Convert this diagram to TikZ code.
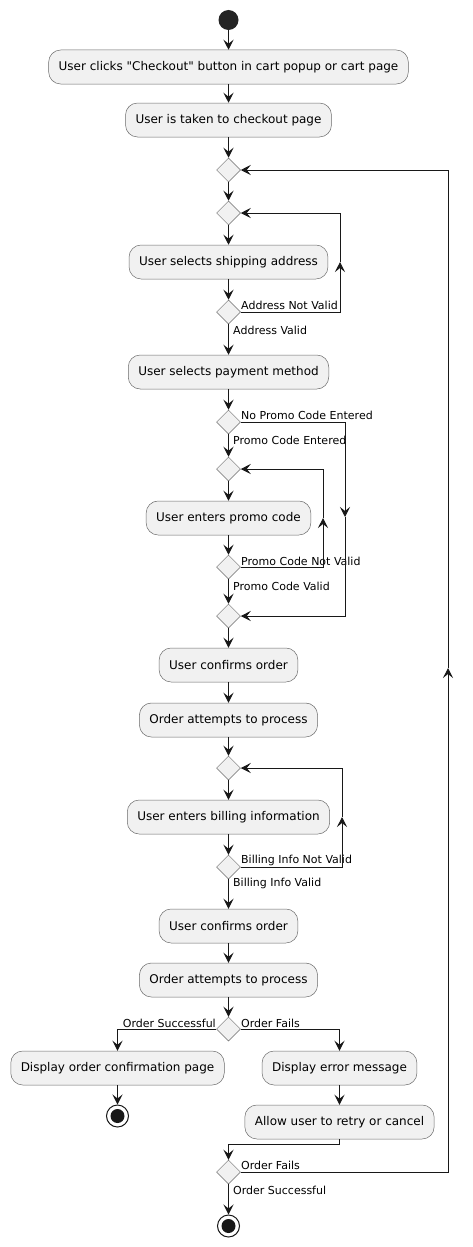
\documentclass[tikz,border=0pt]{standalone}
\usepackage{fontspec}
\setmainfont{DejaVu Sans}[Ligatures=TeXOff]
\usetikzlibrary{arrows.meta,shapes.geometric}
\definecolor{umlfill}{HTML}{F1F1F1}
\definecolor{umlline}{HTML}{181818}

\begin{document}
\begin{tikzpicture}[
  x=1pt,
  y=-1pt,
  action/.style={draw=umlline!65, fill=umlfill, rounded corners=12pt, line width=0.5pt, minimum height=34pt, inner xsep=10pt, inner ysep=0pt, font=\fontsize{12}{14}\selectfont},
  branch/.style={diamond, draw=umlline!65, fill=umlfill, line width=0.5pt, minimum width=24pt, minimum height=24pt, inner sep=0pt},
  guard/.style={inner sep=0pt, font=\fontsize{11}{13}\selectfont},
  flow/.style={umlline, line width=1pt, -{Stealth[length=10pt, width=10pt, inset=4pt]}},
  initial/.style={circle, fill=umlline!95, minimum size=20pt, inner sep=0pt},
  final/.style={circle, draw=umlline, fill=white, line width=1pt, minimum size=22pt, inner sep=0pt, path picture={\fill[umlline] (path picture bounding box.center) circle (7pt);}}
]
\useasboundingbox (0,0) rectangle (473,1247);

\node[initial] (init) at (228.5,20) {};
\node[action] (b1) at (228.5,67) {User clicks "Checkout" button in cart popup or cart page};
\node[action] (b2) at (228.5,120) {User is taken to checkout page};
\node[branch] (d1) at (228.5,170) {};
\node[branch] (d2) at (228.5,213) {};
\node[action] (b3) at (228.5,262) {User selects shipping address};
\node[branch] (d3) at (228.5,312) {};
\node[action] (b4) at (228.5,372) {User selects payment method};
\node[branch] (d4) at (228.5,422) {};
\node[branch] (d5) at (228.5,469) {};
\node[action] (b5) at (228.5,518) {User enters promo code};
\node[branch] (d6) at (228.5,567) {};
\node[branch] (d7) at (228.5,616) {};
\node[action] (b6) at (228.5,665) {User confirms order};
\node[action] (b7) at (228.5,720) {Order attempts to process};
\node[branch] (d8) at (228.5,768) {};
\node[action] (b8) at (228.5,817) {User enters billing information};
\node[branch] (d9) at (228.5,867) {};
\node[action] (b9) at (228.5,926) {User confirms order};
\node[action] (b10) at (228.5,980) {Order attempts to process};
\node[branch] (d10) at (228.5,1029) {};
\node[action] (b11) at (117.5,1068) {Display order confirmation page};
\node[action] (b12) at (339.5,1068) {Display error message};
\node[final] (stop1) at (117.5,1116) {};
\node[action] (b13) at (339.5,1122) {Allow user to retry or cancel};
\node[branch] (d11) at (228.5,1172) {};
\node[final] (stop2) at (228.5,1226) {};

\node[guard, anchor=west] (g1) at (241,305) {Address Not Valid};
\node[guard, anchor=west] (g2) at (233,330) {Address Valid};
\node[guard, anchor=west] (g3) at (241,415) {No Promo Code Entered};
\node[guard, anchor=west] (g4) at (233,440) {Promo Code Entered};
\node[guard, anchor=west] (g5) at (241,561) {Promo Code Not Valid};
\node[guard, anchor=west] (g6) at (233,586) {Promo Code Valid};
\node[guard, anchor=west] (g7) at (241,860) {Billing Info Not Valid};
\node[guard, anchor=west] (g8) at (233,883) {Billing Info Valid};
\node[guard, anchor=east] (g9) at (216,1023) {Order Successful};
\node[guard, anchor=west] (g10) at (241,1023) {Order Fails};
\node[guard, anchor=west] (g11) at (241,1165) {Order Fails};
\node[guard, anchor=west] (g12) at (233,1190) {Order Successful};

\coordinate (r1) at (340,262);
\coordinate (r2) at (345,517);
\coordinate (r3) at (323,518);
\coordinate (r4) at (342,817);
\coordinate (r5) at (448,668);
\coordinate (j1) at (228.5,1144);

\draw[flow] (init) -- (b1);
\draw[flow] (b1) -- (b2);
\draw[flow] (b2) -- (d1);
\draw[flow] (d1) -- (d2);
\draw[flow] (d2) -- (b3);
\draw[flow] (b3) -- (d3);
\draw[flow] (d3.east) -| (r1);
\draw[flow] (r1) |- (d2.east);
\draw[flow] (d3) -- (b4);
\draw[flow] (b4) -- (d4);
\draw[flow] (d4) -- (d5);
\draw[flow] (d4.east) -| (r2);
\draw[flow] (r2) |- (d7.east);
\draw[flow] (d5) -- (b5);
\draw[flow] (b5) -- (d6);
\draw[flow] (d6.east) -| (r3);
\draw[flow] (r3) |- (d5.east);
\draw[flow] (d6) -- (d7);
\draw[flow] (d7) -- (b6);
\draw[flow] (b6) -- (b7);
\draw[flow] (b7) -- (d8);
\draw[flow] (d8) -- (b8);
\draw[flow] (b8) -- (d9);
\draw[flow] (d9.east) -| (r4);
\draw[flow] (r4) |- (d8.east);
\draw[flow] (d9) -- (b9);
\draw[flow] (b9) -- (b10);
\draw[flow] (b10) -- (d10);
\draw[flow] (d10.west) -| (b11.north);
\draw[flow] (d10.east) -| (b12.north);
\draw[flow] (b11) -- (stop1);
\draw[flow] (b12) -- (b13);
\draw[flow] (b13.south) |- (j1) -- (d11.north);
\draw[flow] (d11.east) -| (r5);
\draw[flow] (r5) |- (d1.east);
\draw[flow] (d11) -- (stop2);
\end{tikzpicture}
\end{document}
